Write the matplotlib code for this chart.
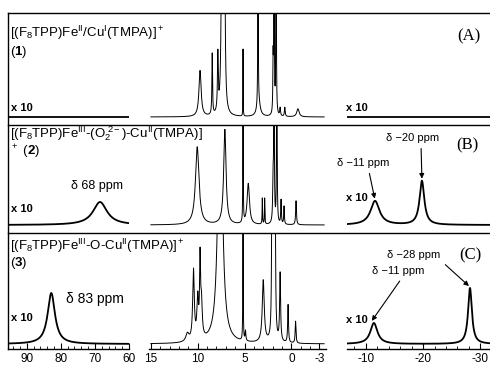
import numpy as np
import matplotlib
matplotlib.use('Agg')
import matplotlib.pyplot as plt
from matplotlib.lines import Line2D
from matplotlib.ticker import MultipleLocator

plt.rcParams['font.family'] = ['Liberation Sans', 'DejaVu Sans']
plt.rcParams['mathtext.fontset'] = 'custom'
plt.rcParams['mathtext.rm'] = 'Liberation Sans'
plt.rcParams['mathtext.it'] = 'Liberation Sans:italic'
plt.rcParams['mathtext.bf'] = 'Liberation Sans:bold'
plt.rcParams['mathtext.sf'] = 'Liberation Sans'
plt.rcParams['axes.unicode_minus'] = False

##-------------------- peak tables (ppm, height, fwhm)
## heights are in the units of each row (baseline = 0), >= 300 means off scale

## (A) Fe(II)/Cu(I)
A_left_pos, A_left_h, A_left_w = [], [], []
A_mid_pos = [9.75, 8.45, 7.85, 7.40, 7.15, 5.16, 3.56, 3.50, 1.95, 1.85, 1.63, 1.20, 0.70, -0.70]
A_mid_h = [46, 61, 57, 300, 300, 67, 300, 15, 51, 300, 300, 8, 9, 8]
A_mid_w = [0.28, 0.08, 0.10, 0.15, 0.12, 0.03, 0.04, 0.40, 0.06, 0.05, 0.05, 0.10, 0.10, 0.30]
A_right_pos, A_right_h, A_right_w = [], [], []

## (B) peroxo complex
B_left_pos = [68.5]
B_left_h = [23]
B_left_w = [5.0]
B_mid_pos = [10.05, 7.10, 5.16, 4.60, 3.10, 2.85, 1.95, 1.85, 1.55, 1.10, 0.78, -0.50]
B_mid_h = [78, 95, 300, 41, 26, 26, 41, 300, 300, 24, 18, 24]
B_mid_w = [0.45, 0.30, 0.03, 0.30, 0.05, 0.05, 0.10, 0.05, 0.05, 0.08, 0.08, 0.10]
B_right_pos = [-11.6, -19.8]
B_right_h = [24, 44]
B_right_w = [1.9, 1.0]

## (C) oxo complex
C_left_pos = [82.8]
C_left_h = [51]
C_left_w = [2.6]
C_mid_pos = [11.1, 10.45, 10.0, 9.75, 9.6, 7.6, 5.16, 4.9, 3.0, 2.05, 1.9, 1.75, 1.2, 0.35, -0.45]
C_mid_h = [8, 70, 40, 75, 35, 300, 300, 10, 62, 300, 300, 300, 68, 38, 22]
C_mid_w = [0.4, 0.2, 0.2, 0.12, 0.2, 0.5, 0.03, 0.1, 0.25, 0.08, 0.08, 0.08, 0.12, 0.10, 0.10]
C_right_pos = [-11.4, -28.2]
C_right_h = [21, 56]
C_right_w = [1.5, 0.8]

left_ticks = [90, 80, 70, 60]
mid_ticks = [15, 10, 5, 0, -3]
right_ticks = [-10, -20, -30]

##-------------------- layout (pixels of a 490x370 figure)
W, H = 490., 370.
cols = [(8, 129), (149, 326), (347, 490)]
rows = [(13, 125), (125, 233), (233, 349)]
row_base = [117, 225, 344]
xlims = [(95.5, 60), (15.2, -3.7), (-6.7, -31.7)]
trace_rng = [(95, 60), (15, -3.5), (-6.7, -32)]


def P(x, y):
    return (x / W, 1 - y / H)


def spectrum(x, pos, h, w):
    y = np.zeros_like(x)
    for p, hh, ww in zip(pos, h, w):
        y = y + hh / (1 + ((x - p) / (ww / 2.)) ** 2)
    return y


fig = plt.figure(figsize=(4.9, 3.7), dpi=100)

tables = [[(A_left_pos, A_left_h, A_left_w), (A_mid_pos, A_mid_h, A_mid_w), (A_right_pos, A_right_h, A_right_w)],
          [(B_left_pos, B_left_h, B_left_w), (B_mid_pos, B_mid_h, B_mid_w), (B_right_pos, B_right_h, B_right_w)],
          [(C_left_pos, C_left_h, C_left_w), (C_mid_pos, C_mid_h, C_mid_w), (C_right_pos, C_right_h, C_right_w)]]

axs = {}
for r, (y0, y1) in enumerate(rows):
    for c, (x0, x1) in enumerate(cols):
        ax = fig.add_axes([x0 / W, 1 - y1 / H, (x1 - x0) / W, (y1 - y0) / H])
        ax.patch.set_alpha(0)
        pos, h, w = tables[r][c]
        xx = np.linspace(trace_rng[c][0], trace_rng[c][1], 4000)
        lw = 0.7 if c == 1 else 1.3
        ax.plot(xx, spectrum(xx, pos, h, w), color='k', lw=lw)
        ax.set_xlim(xlims[c])
        ax.set_ylim(-(y1 - row_base[r]), row_base[r] - y0)
        for s in ['top', 'left', 'right']:
            ax.spines[s].set_visible(False)
        ax.set_yticks([])
        if r < 2:
            ax.spines['bottom'].set_visible(False)
            ax.set_xticks([])
        else:
            ax.spines['bottom'].set_linewidth(1.0)
            ax.set_xticks([left_ticks, mid_ticks, right_ticks][c])
            ax.xaxis.set_minor_locator(MultipleLocator([2, 1, 2][c]))
            ax.tick_params(axis='x', which='both', direction='in', labelsize=8.5, pad=3)
            ax.tick_params(axis='x', which='major', length=4, width=0.8)
            ax.tick_params(axis='x', which='minor', length=2, width=0.6)
        axs[(r, c)] = ax

##-------------------- frame lines
for yy in [13, 125, 233]:
    fig.add_artist(Line2D([8 / W, 1], [1 - yy / H, 1 - yy / H], color='k', lw=1.0))
fig.add_artist(Line2D([8 / W, 8 / W], [1 - 13 / H, 1 - 349 / H], color='k', lw=1.0))

##-------------------- labels
tkw = dict(fontsize=9.5, ha='left', va='center')
fig.text(*P(10, 33), r'[(F$_8$TPP)Fe$^{\rm II}$/Cu$^{\rm I}$(TMPA)]$^+$', **tkw)
fig.text(*P(10, 52), r'($\mathbf{1}$)', **tkw)
fig.text(*P(10, 134), r'[(F$_8$TPP)Fe$^{\rm III}$-(O$_2^{\ 2-}$)-Cu$^{\rm II}$(TMPA)]', **tkw)
fig.text(*P(10, 152), r'$^+$ ($\mathbf{2}$)', **tkw)
fig.text(*P(10, 246), r'[(F$_8$TPP)Fe$^{\rm III}$-O-Cu$^{\rm II}$(TMPA)]$^+$', **tkw)
fig.text(*P(10, 263), r'($\mathbf{3}$)', **tkw)

skw = dict(fontsize=12, ha='center', va='center', family='Liberation Serif')
fig.text(*P(469, 36), '(A)', **skw)
fig.text(*P(467, 145), '(B)', **skw)
fig.text(*P(470, 255), '(C)', **skw)

xkw = dict(fontsize=8, ha='left', va='center', fontweight='bold')
for (xp, yp) in [(11, 108), (346, 108), (11, 209), (346, 198), (11, 318), (346, 320)]:
    fig.text(*P(xp, yp), 'x 10', **xkw)

fig.text(*P(97, 186), 'δ 68 ppm', fontsize=9, ha='center', va='center')
fig.text(*P(95, 299), 'δ 83 ppm', fontsize=10, ha='center', va='center')

akw = dict(arrowstyle='-|>', color='k', lw=0.8, mutation_scale=7, shrinkB=1)
axs[(1, 2)].annotate('δ −11 ppm', xy=(B_right_pos[0], B_right_h[0] + 1), xycoords='data',
                     xytext=P(363, 163), textcoords='figure fraction', fontsize=8,
                     ha='center', va='center', arrowprops=dict(relpos=(0.6, 0), **akw))
axs[(1, 2)].annotate('δ −20 ppm', xy=(B_right_pos[1], B_right_h[1] + 1), xycoords='data',
                     xytext=P(413, 138), textcoords='figure fraction', fontsize=8,
                     ha='center', va='center', arrowprops=dict(relpos=(0.65, 0), **akw))
axs[(2, 2)].annotate('δ −28 ppm', xy=(C_right_pos[1], C_right_h[1] + 1), xycoords='data',
                     xytext=P(414, 255), textcoords='figure fraction', fontsize=8,
                     ha='center', va='center', arrowprops=dict(relpos=(0.95, 0.2), **akw))
axs[(2, 2)].annotate('δ −11 ppm', xy=(C_right_pos[0] + 0.5, C_right_h[0] + 1), xycoords='data',
                     xytext=P(398, 271), textcoords='figure fraction', fontsize=8,
                     ha='center', va='center', arrowprops=dict(relpos=(0.6, 0), **akw))

fig.savefig('out.png', dpi=100)
